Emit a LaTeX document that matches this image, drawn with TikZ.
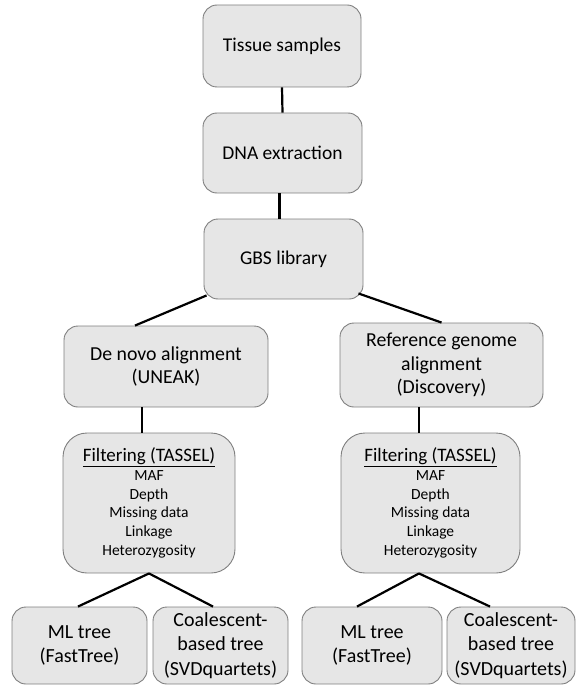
\documentclass[tikz,border=0pt]{standalone}
\usepackage{fontspec}
\setmainfont{Carlito}
\usetikzlibrary{positioning,calc}

\definecolor{boxfill}{HTML}{E6E6E6}
\definecolor{boxline}{HTML}{7F7F7F}

\newcommand{\filttitle}{{\fontsize{19}{19}\selectfont\underline{Filtering (TASSEL)}}}

\begin{document}
\begin{tikzpicture}[x=1pt,y=-1pt, every node/.style={align=center},
  box/.style={draw=boxline, line width=0.9pt, fill=boxfill, rounded corners=14pt, inner sep=0pt},
  link/.style={line width=2.2pt, black}]
  \useasboundingbox (0,0) rectangle (576,687);
  % main column
  \node[box, minimum width=158, minimum height=82, font=\fontsize{19.5}{23}\selectfont] (tissue) at (282,46) {Tissue samples};
  \node[box, minimum width=159, minimum height=80, font=\fontsize{19.5}{23}\selectfont] (dna) at (282.5,153) {DNA extraction};
  \node[box, minimum width=159, minimum height=80, font=\fontsize{19.5}{23}\selectfont] (gbs) at (283.5,259) {GBS library};
  % the two alignments
  \node[box, minimum width=204, minimum height=81, font=\fontsize{19.8}{23.5}\selectfont] (denovo) at (166,366.5) {De novo alignment\\(UNEAK)};
  \node[box, minimum width=203, minimum height=84, font=\fontsize{19.8}{23.5}\selectfont] (refgen) at (441.5,365) {Reference genome\\alignment\\(Discovery)};
  % filtering
  \node[box, rounded corners=24pt, minimum width=172, minimum height=140, font=\fontsize{15.5}{18.7}\selectfont] (filtL) at (149,503)
    {\filttitle\\MAF\\Depth\\Missing data\\Linkage\\Heterozygosity};
  \node[box, rounded corners=24pt, minimum width=179, minimum height=140, font=\fontsize{15.5}{18.7}\selectfont] (filtR) at (430.5,503)
    {\filttitle\\MAF\\Depth\\Missing data\\Linkage\\Heterozygosity};
  % trees
  \node[box, minimum width=135, minimum height=77, font=\fontsize{20}{24.5}\selectfont] (mlL) at (79.5,645.5) {ML tree\\(FastTree)};
  \node[box, minimum width=135, minimum height=77, font=\fontsize{20}{24.5}\selectfont] (coalL) at (220.5,645.5) {Coalescent-\\based tree\\(SVDquartets)};
  \node[box, minimum width=140, minimum height=77, font=\fontsize{20}{24.5}\selectfont] (mlR) at (372,645.5) {ML tree\\(FastTree)};
  \node[box, minimum width=128, minimum height=77, font=\fontsize{20}{24.5}\selectfont] (coalR) at (511,645.5) {Coalescent-\\based tree\\(SVDquartets)};

  \draw[link] (tissue.south) -- (dna.north);
  \draw[link] ([xshift=-3]dna.south) -- ([xshift=-4]gbs.north);
  \draw[link] ([shift={(3,-4)}]gbs.south west) -- ([xshift=-31]denovo.north);
  \draw[link] ([shift={(-5,-6)}]gbs.south east) -- (refgen.north);
  \draw[link] ([xshift=-24]denovo.south) -- ([xshift=-7]filtL.north);
  \draw[link] ([xshift=-22.5]refgen.south) -- ([xshift=-11.5]filtR.north);
  \draw[link] (filtL.south) -- ([xshift=-1.5]mlL.north);
  \draw[link] (filtL.south) -- ([xshift=-7.5]coalL.north);
  \draw[link] ([xshift=-11.5]filtR.south) -- ([xshift=-15]mlR.north);
  \draw[link] ([xshift=-11.5]filtR.south) -- ([xshift=-21]coalR.north);
\end{tikzpicture}
\end{document}
